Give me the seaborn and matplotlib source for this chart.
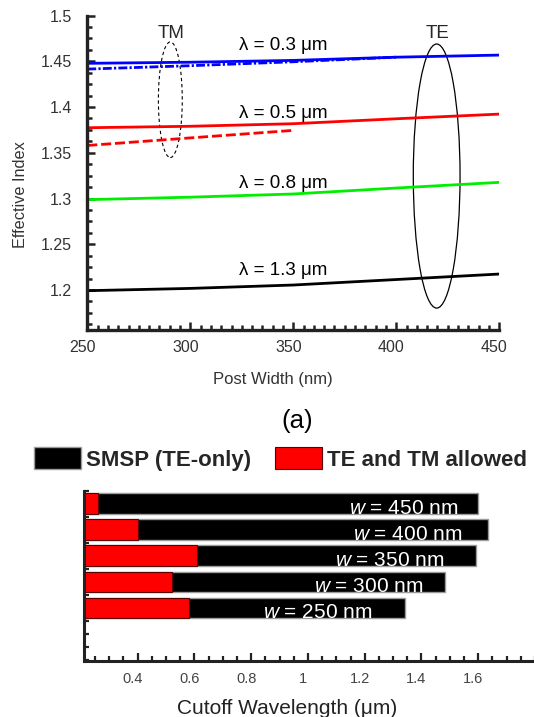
import matplotlib
matplotlib.use("Agg")
import numpy as np
import pandas as pd
import seaborn as sns
import matplotlib.pyplot as plt
from matplotlib.patches import Ellipse
from matplotlib.ticker import MultipleLocator, FixedLocator, FuncFormatter
from matplotlib.transforms import ScaledTranslation

# ---- (a) effective index versus post width ----
post_width = [250, 300, 350, 400, 450]
te_03 = [1.4478, 1.4490, 1.4510, 1.4545, 1.4568]
tm_03_width = [250, 300, 350, 400]
tm_03 = [1.4415, 1.4452, 1.4495, 1.4545]
te_05 = [1.3774, 1.3790, 1.3818, 1.3872, 1.3923]
tm_05_width = [250, 300, 350]
tm_05 = [1.3580, 1.3663, 1.3745]
te_08 = [1.2988, 1.3015, 1.3050, 1.3115, 1.3177]
te_13 = [1.1993, 1.2018, 1.2055, 1.2115, 1.2175]
wavelength_labels = ["λ = 0.3 μm", "λ = 0.5 μm", "λ = 0.8 μm", "λ = 1.3 μm"]
y_ticks = [1.2, 1.25, 1.3, 1.35, 1.4, 1.45, 1.5]
x_ticks = [250, 300, 350, 400, 450]

# ---- cutoff wavelengths per post width ----
bar_widths = [450, 400, 350, 300, 250]
cutoff_smsp = [1.600, 1.633, 1.592, 1.483, 1.343]
cutoff_te_tm = [0.26, 0.40, 0.61, 0.52, 0.58]
legend_labels = ["SMSP (TE-only)", "TE and TM allowed"]
cutoff_ticks = [0.4, 0.6, 0.8, 1.0, 1.2, 1.4, 1.6]

# layout of the annotations
lambda_label_y = [1.4619, 1.3885, 1.3115, 1.2160]
bar_label_right = [1.529, 1.543, 1.481, 1.407, 1.227]

sns.set_theme(style="white")
plt.rcParams["font.family"] = ["Liberation Sans", "DejaVu Sans"]
plt.rcParams["mathtext.fontset"] = "custom"
plt.rcParams["mathtext.rm"] = "Liberation Sans"
plt.rcParams["mathtext.it"] = "Liberation Sans:italic"

SPINE = "#222222"

fig = plt.figure(figsize=(5.34, 7.17), dpi=100)
ax1 = fig.add_axes([0.1635, 0.5397, 0.7715, 0.4386])
ax2 = fig.add_axes([0.1573, 0.0785, 0.8446, 0.2371])

# ---- top panel ----
sns.lineplot(x=post_width, y=te_03, color="#0000ff", lw=2.0, ax=ax1)
sns.lineplot(x=tm_03_width, y=tm_03, color="#0000ff", lw=2.0,
             linestyle=(0, (3.2, 0.8, 0.8, 0.8)), ax=ax1)
sns.lineplot(x=post_width, y=te_05, color="#ff0000", lw=2.0, ax=ax1)
sns.lineplot(x=tm_05_width, y=tm_05, color="#ff0000", lw=2.0,
             linestyle=(0, (3.6, 1.4)), ax=ax1)
sns.lineplot(x=post_width, y=te_08, color="#00ee00", lw=2.0, ax=ax1)
sns.lineplot(x=post_width, y=te_13, color="black", lw=2.0, ax=ax1)

for label, y in zip(wavelength_labels, lambda_label_y):
    ax1.text(345.3, y, label, ha="center", va="baseline", fontsize=13.5,
             color="black")

ax1.add_patch(Ellipse((290.3, 1.408), width=11.6, height=0.1264, fill=False,
                      ec="black", lw=0.8, ls=(0, (3, 2.5))))
ax1.add_patch(Ellipse((419.6, 1.3246), width=22.7, height=0.2886, fill=False,
                      ec="black", lw=0.9))
ax1.text(290.5, 1.4754, "TM", ha="center", va="baseline", fontsize=13.5)
ax1.text(420.0, 1.4753, "TE", ha="center", va="baseline", fontsize=13.5)

ax1.set_xlim(250, 450)
ax1.set_ylim(1.1563, 1.5)
ax1.xaxis.set_major_locator(FixedLocator(x_ticks))
ax1.xaxis.set_minor_locator(MultipleLocator(5))
ax1.yaxis.set_major_locator(FixedLocator(y_ticks))
ax1.yaxis.set_minor_locator(MultipleLocator(0.0125))
ax1.yaxis.set_major_formatter(FuncFormatter(lambda v, p: f"{round(v, 3):g}"))
for side in ("top", "right"):
    ax1.spines[side].set_visible(False)
for side in ("left", "bottom"):
    ax1.spines[side].set_linewidth(2.4)
    ax1.spines[side].set_color(SPINE)
ax1.tick_params(which="both", direction="in", color=SPINE, width=1.8,
                left=True, bottom=True)
ax1.tick_params(which="major", length=6)
ax1.tick_params(which="minor", length=3.5)
ax1.tick_params(axis="y", which="major", labelsize=11.5, labelcolor="#333333", pad=11)
ax1.tick_params(axis="x", which="major", labelsize=11.5, labelcolor="#333333", pad=7.5)

ax1.set_xlabel("Post Width (nm)", fontsize=12, color="#333333", va="baseline")
ax1.xaxis.set_label_coords(0.451, -0.1717)
ax1.set_ylabel("Effective Index", fontsize=11.7, color="#333333", va="center")
ax1.yaxis.set_label_coords(-0.162, 0.43)

fig.text(297 / 534, 1 - 428 / 717, "(a)", ha="center", va="baseline",
         fontsize=18.5, color="black")

# ---- bottom panel ----
df = pd.DataFrame({"width": bar_widths, "smsp": cutoff_smsp,
                   "te_tm": cutoff_te_tm})
sns.barplot(data=df, x="smsp", y="width", orient="h", native_scale=True,
            color="black", saturation=1, edgecolor="#9a9a9a", linewidth=1.0,
            width=0.8, errorbar=None, label=legend_labels[0], ax=ax2)
sns.barplot(data=df, x="te_tm", y="width", orient="h", native_scale=True,
            color="#ff0000", saturation=1, edgecolor="#5a0000", linewidth=0.8,
            width=0.8, errorbar=None, label=legend_labels[1], ax=ax2)

for w, xr in zip(bar_widths, bar_label_right):
    ax2.text(xr, w - 20, rf"$\it{{w}}$ = {w} nm", ha="right", va="baseline",
             fontsize=15, color="white")

handles, labels = ax2.get_legend_handles_labels()
if ax2.get_legend() is not None:
    ax2.get_legend().remove()
fig.legend(handles, labels, loc="center left",
           bbox_to_anchor=(34 / 534, 1 - 459 / 717), ncol=2, frameon=False,
           prop={"weight": "bold", "size": 16}, handlelength=2.12,
           handleheight=1.17, handletextpad=0.23, columnspacing=1.05,
           borderpad=0, borderaxespad=0)

ax2.set_xlim(0.211, 1.80)
ax2.set_ylim(149, 475)
ax2.xaxis.set_major_locator(FixedLocator(cutoff_ticks))
ax2.xaxis.set_major_formatter(FuncFormatter(lambda v, p: f"{round(v, 2):g}"))
ax2.xaxis.set_minor_locator(MultipleLocator(0.05))
ax2.yaxis.set_major_locator(FixedLocator([]))
ax2.yaxis.set_minor_locator(MultipleLocator(25))
for side in ("top", "right"):
    ax2.spines[side].set_visible(False)
for side in ("left", "bottom"):
    ax2.spines[side].set_linewidth(2.2)
    ax2.spines[side].set_color(SPINE)
ax2.tick_params(which="both", direction="in", color=SPINE, width=1.6,
                left=True, bottom=True)
ax2.tick_params(which="major", length=6)
ax2.tick_params(which="minor", length=3.5)
ax2.tick_params(axis="x", which="major", labelsize=10.5, labelcolor="#444444", pad=8)
ax2.set_ylabel("")
ax2.set_xlabel("Cutoff Wavelength (μm)", fontsize=15, color="#222222",
               va="baseline")
ax2.xaxis.set_label_coords(0.451, -0.316)

# nudge tick labels slightly left of their ticks
shift = ScaledTranslation(-0.05, 0, fig.dpi_scale_trans)
for ax in (ax1, ax2):
    for lab in ax.get_xticklabels():
        lab.set_transform(lab.get_transform() + shift)

fig.savefig("out.png", dpi=100)
